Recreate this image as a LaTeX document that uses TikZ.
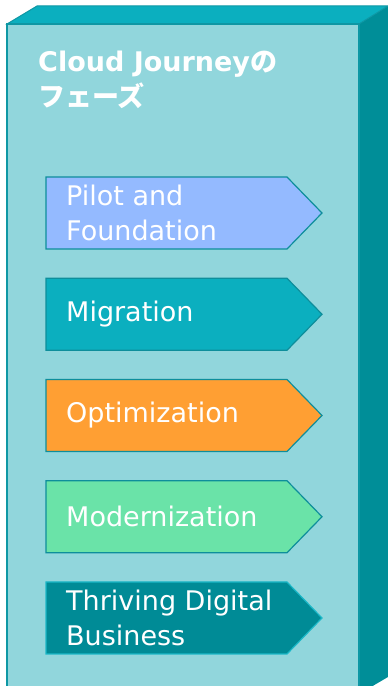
\documentclass[tikz,border=0pt]{standalone}
\usepackage{fontspec}
\setmainfont{DejaVu Sans}
\newfontfamily\jpfont{Noto Sans CJK JP}
\usepackage{tikz}

\definecolor{facefront}{HTML}{91D6DC}
\definecolor{facetop}{HTML}{0BAFBF}
\definecolor{faceside}{HTML}{008E98}
\definecolor{edgeline}{HTML}{0E97A4}
\definecolor{pilotfill}{HTML}{94BAFF}
\definecolor{migfill}{HTML}{0BAFBF}
\definecolor{optfill}{HTML}{FF9F33}
\definecolor{modfill}{HTML}{6AE3A8}
\definecolor{thrivefill}{HTML}{008B96}
\definecolor{boxedge}{HTML}{0E8E9B}
\definecolor{thriveedge}{HTML}{1BB8C8}

\begin{document}
\begin{tikzpicture}[x=1pt,y=1pt,
    phase/.style={text=white,inner xsep=20pt,inner ysep=0pt,align=left,
        font=\fontsize{27}{35}\selectfont}]
\useasboundingbox (0,0) rectangle (388,686);

% Box faces
\fill[faceside] (359,662) -- (388,680) -- (388,9) -- (359,-8) -- cycle;
\filldraw[fill=facetop,draw=edgeline,line width=1pt] (7,662) -- (37,680) -- (388,680) -- (359,662) -- cycle;
\filldraw[fill=facefront,draw=edgeline,line width=1.5pt] (7,-5) -- (7,662) -- (359,662) -- (359,-5);

% Title
\node[anchor=base west,text=white,align=left,inner sep=0pt,
      font=\fontsize{27}{35}\selectfont\bfseries] (title) at (38,579)
      {Cloud Journey{\jpfont の}\\{\jpfont フェーズ}};

% Phases
\foreach \txt/\col/\bor [count=\i from 0] in {
    {Pilot and\\Foundation}/pilotfill/boxedge,
    {Migration}/migfill/boxedge,
    {Optimization}/optfill/boxedge,
    {Modernization}/modfill/boxedge,
    {Thriving Digital\\Business}/thrivefill/thriveedge} {
  \pgfmathsetmacro\yc{473-101.25*\i}
  \filldraw[fill=\col,draw=\bor,line width=1.2pt]
    (46,\yc-36) -- (287,\yc-36) -- (322,\yc) -- (287,\yc+36) -- (46,\yc+36) -- cycle;
  \node[phase,anchor=west] (phase\i) at (46,\yc) {\txt};
}
\end{tikzpicture}
\end{document}
